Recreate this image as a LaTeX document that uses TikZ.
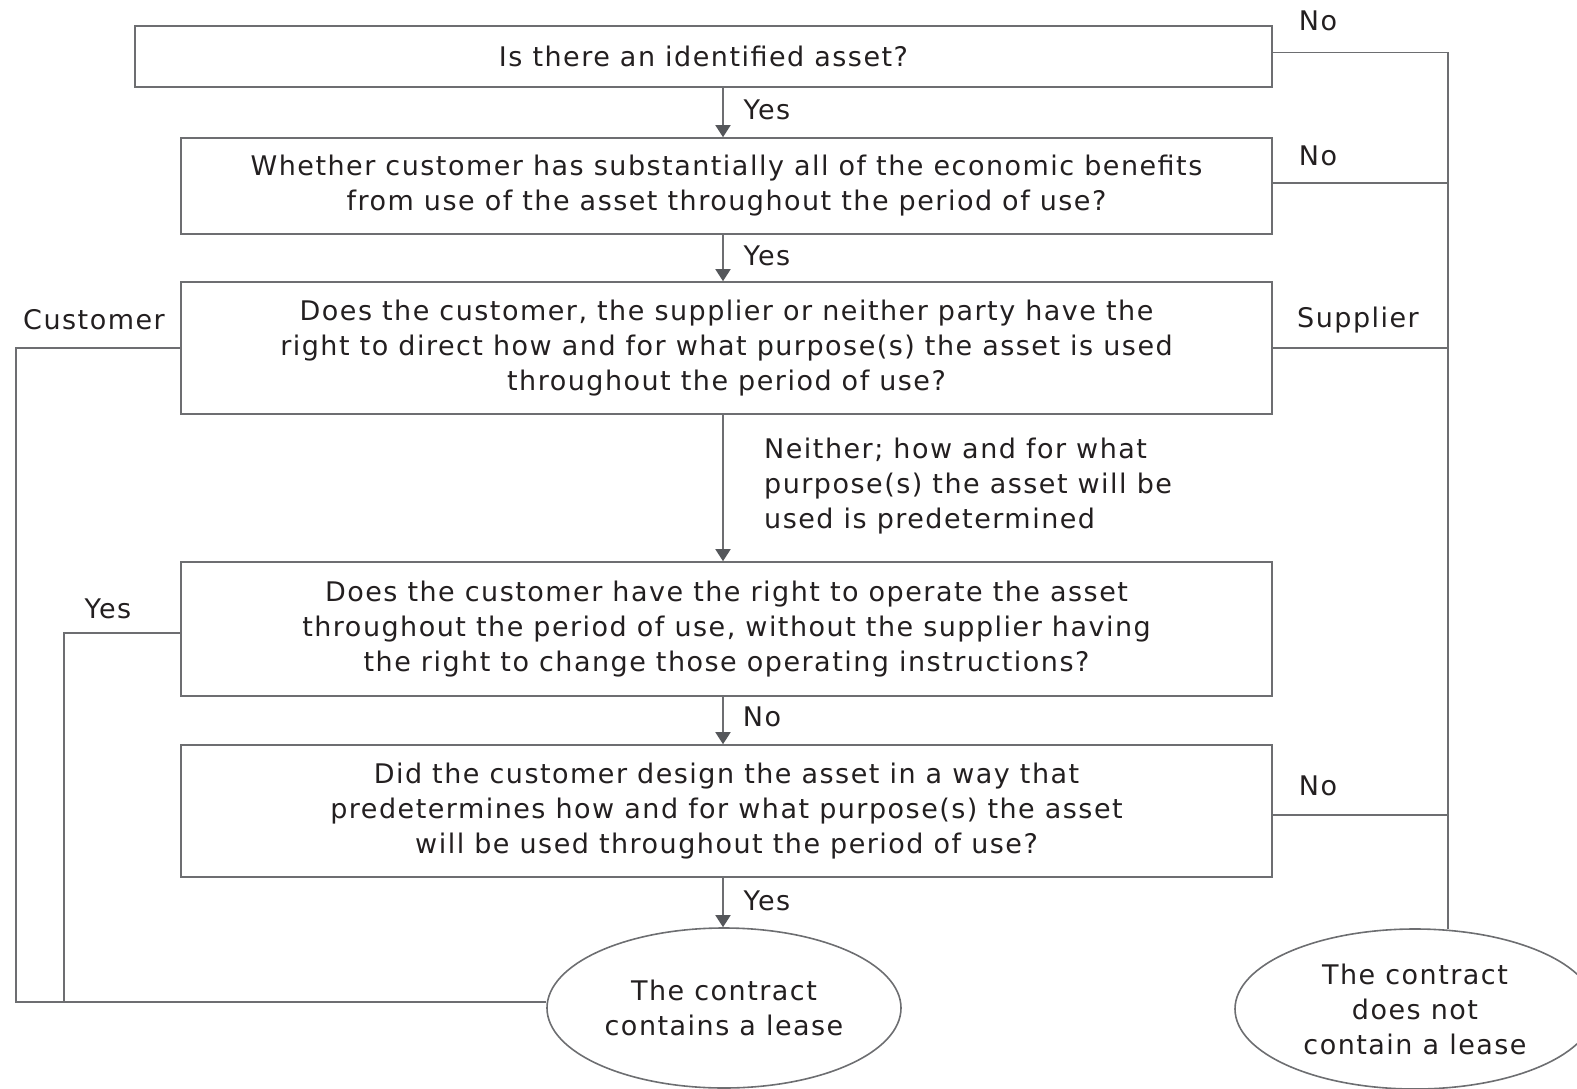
\documentclass[tikz,border=0pt]{standalone}
\usepackage{fontspec}
\setmainfont{DejaVu Sans}[LetterSpace=5.5]
\usetikzlibrary{shapes.geometric,arrows.meta}
\definecolor{linegrey}{HTML}{6D6E71}
\definecolor{tipgrey}{HTML}{55575B}
\definecolor{ink}{HTML}{231F20}
\begin{document}
\begin{tikzpicture}[x=1pt,y=-1pt,
  every node/.style={text=ink,font=\fontsize{27}{35}\selectfont},
  box/.style={draw=linegrey,line width=1.6pt,rectangle,align=center,inner sep=0pt,minimum width=1091pt},
  endpoint/.style={draw=linegrey,line width=1.6pt,ellipse,align=center,inner sep=0pt},
  flow/.style={draw=linegrey,line width=1.6pt,-{Triangle[width=15pt,length=12pt,color=tipgrey]}},
  link/.style={draw=linegrey,line width=1.6pt},
  lbl/.style={inner sep=0pt}]
\useasboundingbox (0,0) rectangle (1577,1089);
\clip (0,0) rectangle (1577,1089);

% decision boxes
\node[box,minimum width=1137pt,minimum height=61pt] (q1) at (703.5,56.5) {Is there an identified asset?};
\node[box,minimum height=96pt] (q2) at (726.5,186) {Whether customer has substantially all of the economic benefits\\from use of the asset throughout the period of use?};
\node[box,minimum height=132pt] (q3) at (726.5,348) {Does the customer, the supplier or neither party have the\\right to direct how and for what purpose(s) the asset is used\\throughout the period of use?};
\node[box,minimum height=134pt] (q4) at (726.5,629) {Does the customer have the right to operate the asset\\throughout the period of use, without the supplier having\\the right to change those operating instructions?};
\node[box,minimum height=132pt] (q5) at (726.5,811) {Did the customer design the asset in a way that\\predetermines how and for what purpose(s) the asset\\will be used throughout the period of use?};

% outcomes
\node[endpoint,minimum width=354pt,minimum height=160pt] (lease) at (724,1008) {The contract\\contains a lease};
\node[endpoint,minimum width=360pt,minimum height=160pt] (nolease) at (1415,1009) {The contract\\does not\\contain a lease};

% routing points
\coordinate (ax) at (723,0);
\coordinate (rb) at (1448,929);
\coordinate (lo) at (16,1002);
\coordinate (li) at (64,1002);

% main downward flow
\draw[flow] (q1.south -| ax) -- (q2.north -| ax);
\draw[flow] (q2.south -| ax) -- (q3.north -| ax);
\draw[flow] (q3.south -| ax) -- (q4.north -| ax);
\draw[flow] (q4.south -| ax) -- (q5.north -| ax);
\draw[flow] (q5.south -| ax) -- (lease.north -| ax);

% right-hand "no" branches
\draw[link] ([yshift=4pt]q1.east) -| (rb);
\draw[link] ([yshift=3pt]q2.east) -- ([yshift=3pt]q2.east -| rb);
\draw[link] (q3.east) -- (q3.east -| rb);
\draw[link] ([yshift=-4pt]q5.east) -- ([yshift=-4pt]q5.east -| rb);

% left-hand branches to the lease outcome
\draw[link] (q3.west) -| (lo) -- (lo -| lease.west);
\draw[link] ([yshift=-4pt]q4.west) -| (li);

% branch labels
\node[lbl] (l1) at (767,110) {Yes};
\node[lbl] (l2) at (767,256) {Yes};
\node[lbl] (l3) at (762,717) {No};
\node[lbl] (l4) at (767,901) {Yes};
\node[lbl] (l5) at (1318,21) {No};
\node[lbl] (l6) at (1318,156) {No};
\node[lbl] (l7) at (1358,320) {Supplier};
\node[lbl] (l8) at (1318,786) {No};
\node[lbl] (l9) at (94,320) {Customer};
\node[lbl] (l10) at (108,609) {Yes};
\node[lbl,anchor=west,align=left] (l11) at (764,486) {Neither; how and for what\\purpose(s) the asset will be\\used is predetermined};
\end{tikzpicture}
\end{document}
